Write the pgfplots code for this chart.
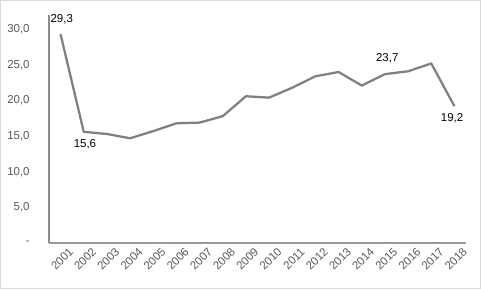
\documentclass[border=0pt]{standalone}
\usepackage{pgfplots}
\pgfplotsset{compat=1.18}
\usepackage{fontspec}
\setmainfont{Liberation Sans}
\definecolor{linegray}{RGB}{128,128,128}
\definecolor{ticktext}{RGB}{89,89,89}
\begin{document}
\begin{tikzpicture}
\draw[draw=black!15, line width=0.75pt] (0.375pt,0.375pt) rectangle (360.375pt,216.375pt);
\begin{axis}[
  at={(36.75pt,34.5pt)}, anchor=south west,
  scale only axis,
  width=312.75pt, height=171pt,
  xmin=-0.5, xmax=17.5,
  ymin=0, ymax=32,
  axis lines=left,
  axis line style={-, draw=black!45, line width=0.8pt},
  x axis line style={draw=black!40},
  xtick={0,...,17},
  xticklabels={2001,2002,2003,2004,2005,2006,2007,2008,2009,2010,2011,2012,2013,2014,2015,2016,2017,2018},
  ytick={0,5,10,15,20,25,30},
  yticklabels={{-},{5,0},{10,0},{15,0},{20,0},{25,0},{30,0}},
  major tick length=0pt,
  tick style={draw=none},
  ticklabel style={font=\fontsize{8.6}{10}\selectfont, text=ticktext},
  yticklabel style={xshift=-11pt},
  xticklabel style={rotate=45, anchor=north east, inner sep=1pt, yshift=-5pt, xshift=3pt},
  clip=false,
]
\addplot[linegray, line width=1.7pt, line join=round] coordinates {
(0,29.3) (1,15.6) (2,15.3) (3,14.7) (4,15.7) (5,16.8) (6,16.9) (7,17.8)
(8,20.6) (9,20.4) (10,21.8) (11,23.4) (12,24.0) (13,22.1) (14,23.7)
(15,24.1) (16,25.2) (17,19.2)
};
\node[font=\fontsize{8.6}{10}\selectfont] at (axis cs:0.05,31.4) {29,3};
\node[font=\fontsize{8.6}{10}\selectfont] at (axis cs:1.05,13.8) {15,6};
\node[font=\fontsize{8.6}{10}\selectfont] at (axis cs:14.1,25.9) {23,7};
\node[font=\fontsize{8.6}{10}\selectfont] at (axis cs:16.9,17.5) {19,2};
\end{axis}
\end{tikzpicture}
\end{document}
